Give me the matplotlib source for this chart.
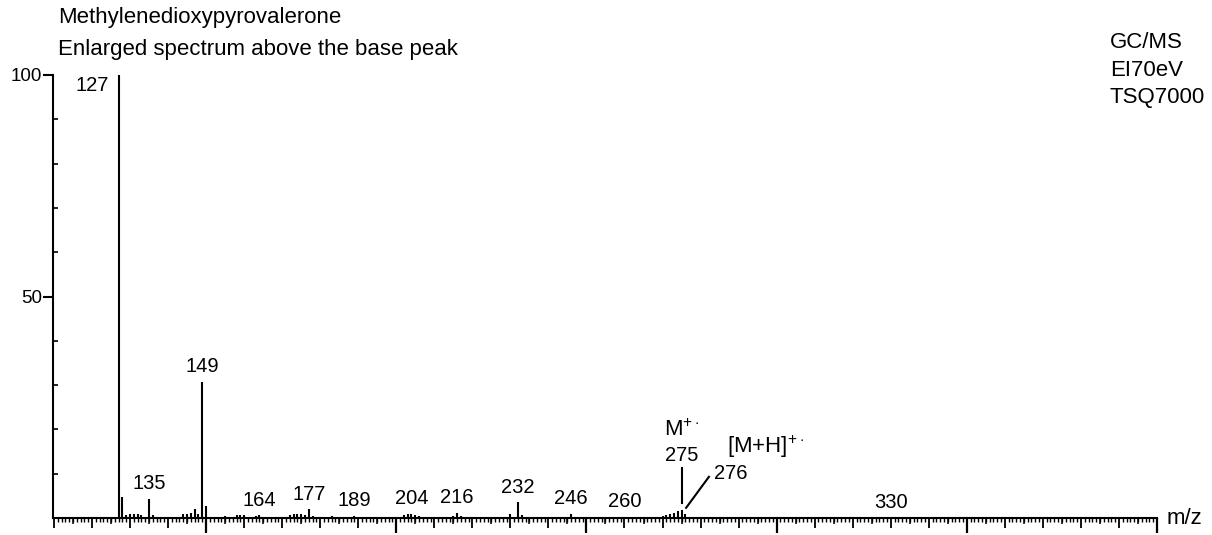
import numpy as np
import matplotlib
matplotlib.use("Agg")
import matplotlib.pyplot as plt

# Espectro de masas de la MDPV
mz = [127, 128, 129, 130, 131, 132, 133, 135, 136,
      144, 145, 146, 147, 148, 149, 150,
      155, 158, 159, 160, 163, 164,
      172, 173, 174, 175, 176, 177, 178, 183, 189,
      202, 203, 204, 205, 206, 215, 216, 217,
      230, 232, 233, 246, 260,
      270, 271, 272, 273, 274, 275, 276, 330]
intensidad = [100, 4.8, 0.7, 0.8, 0.8, 0.8, 0.6, 4.3, 0.6,
              0.8, 1.0, 1.2, 2.1, 0.8, 30.8, 2.6,
              0.5, 0.6, 0.6, 0.6, 0.5, 0.6,
              0.6, 0.8, 1.0, 1.0, 0.6, 2.0, 0.5, 0.4, 0.5,
              0.6, 0.8, 1.0, 0.6, 0.4, 0.4, 1.2, 0.5,
              0.8, 3.5, 0.6, 1.0, 0.3,
              0.4, 0.6, 0.9, 1.2, 1.5, 1.8, 1.0, 0.2]

# picos con etiqueta
etiquetas = [135, 149, 164, 177, 189, 204, 216, 232, 246, 260, 330]

plt.rcParams['font.family'] = ['Liberation Sans', 'DejaVu Sans']
plt.rcParams['mathtext.fontset'] = 'custom'
plt.rcParams['mathtext.rm'] = 'Liberation Sans'

fig = plt.figure(figsize=(12.12, 5.35), dpi=100)
ax = fig.add_axes([53/1212, 17/535, 1104/1212, 443/535])

ax.vlines(mz, 0, intensidad, color='black', linewidth=1.5, clip_on=False)

ax.set_xlim(109.75, 400)
ax.set_ylim(0, 100)
ax.spines['top'].set_visible(False)
ax.spines['right'].set_visible(False)
ax.spines['left'].set_linewidth(1.5)
ax.spines['bottom'].set_linewidth(1.5)

# eje y: marcas grandes hacia afuera, pequeñas hacia adentro
ax.set_yticks([50, 100])
ax.set_yticklabels(['50', '100'])
ax.set_yticks(np.arange(10, 100, 10), minor=True)
ax.tick_params(axis='y', which='major', direction='out', length=7, width=1.5,
               labelsize=13.5, pad=1)
ax.tick_params(axis='y', which='minor', direction='in', length=3.5, width=1.2)

# eje x: marcas cada 1, 10, y extras cada 5 y 50
ax.set_xticks(np.arange(110, 400, 10))
ax.set_xticks(np.arange(110, 400, 1), minor=True)
ax.set_xticklabels([])
ax.tick_params(axis='x', which='major', direction='out', length=7, width=1.3)
ax.tick_params(axis='x', which='minor', direction='out', length=3, width=1.0)

sec5 = ax.secondary_xaxis('bottom')
sec5.set_xticks(np.arange(115, 400, 10))
sec5.set_xticklabels([])
sec5.tick_params(direction='out', length=4.5, width=1.1)
sec5.spines['bottom'].set_visible(False)

sec50 = ax.secondary_xaxis('bottom')
sec50.set_xticks(np.arange(150, 401, 50))
sec50.set_xticklabels([])
sec50.tick_params(direction='out', length=11, width=1.6)
sec50.spines['bottom'].set_visible(False)

# etiquetas de los picos
for m in etiquetas:
    i = intensidad[mz.index(m)]
    ax.annotate(str(m), (m, i), xytext=(0, 4), textcoords='offset points',
                ha='center', va='bottom', fontsize=14.5)

ax.annotate('127', (127, 100), xytext=(-7, -1), textcoords='offset points',
            ha='right', va='top', fontsize=14.5)

# ion molecular
ax.plot([275, 275], [3.4, 11.3], color='black', linewidth=1.5)
ax.text(275, 12.0, '275', ha='center', va='bottom', fontsize=14.5)
ax.text(275, 17.3, r'M$^{+\cdot}$', ha='center', va='bottom', fontsize=16)
ax.plot([276.2, 282.2], [2.3, 9.3], color='black', linewidth=1.5)
ax.text(283.5, 8.0, '276', ha='left', va='bottom', fontsize=14.5)
ax.text(287, 13.0, r'[M+H]$^{+\cdot}$', ha='left', va='bottom', fontsize=16)

ax.text(1.009, 0, 'm/z', transform=ax.transAxes, ha='left', va='center',
        fontsize=16)

fig.text(58/1212, 1 - 18/535, 'Methylenedioxypyrovalerone', ha='left',
         va='center', fontsize=16)
fig.text(58/1212, 1 - 49/535, 'Enlarged spectrum above the base peak',
         ha='left', va='center', fontsize=16)
fig.text(1110/1212, 1 - 42/535, 'GC/MS', ha='left', va='center', fontsize=16)
fig.text(1110/1212, 1 - 70/535, 'EI70eV', ha='left', va='center', fontsize=16)
fig.text(1110/1212, 1 - 98/535, 'TSQ7000', ha='left', va='center', fontsize=16)

plt.savefig('out.png', dpi=100)
